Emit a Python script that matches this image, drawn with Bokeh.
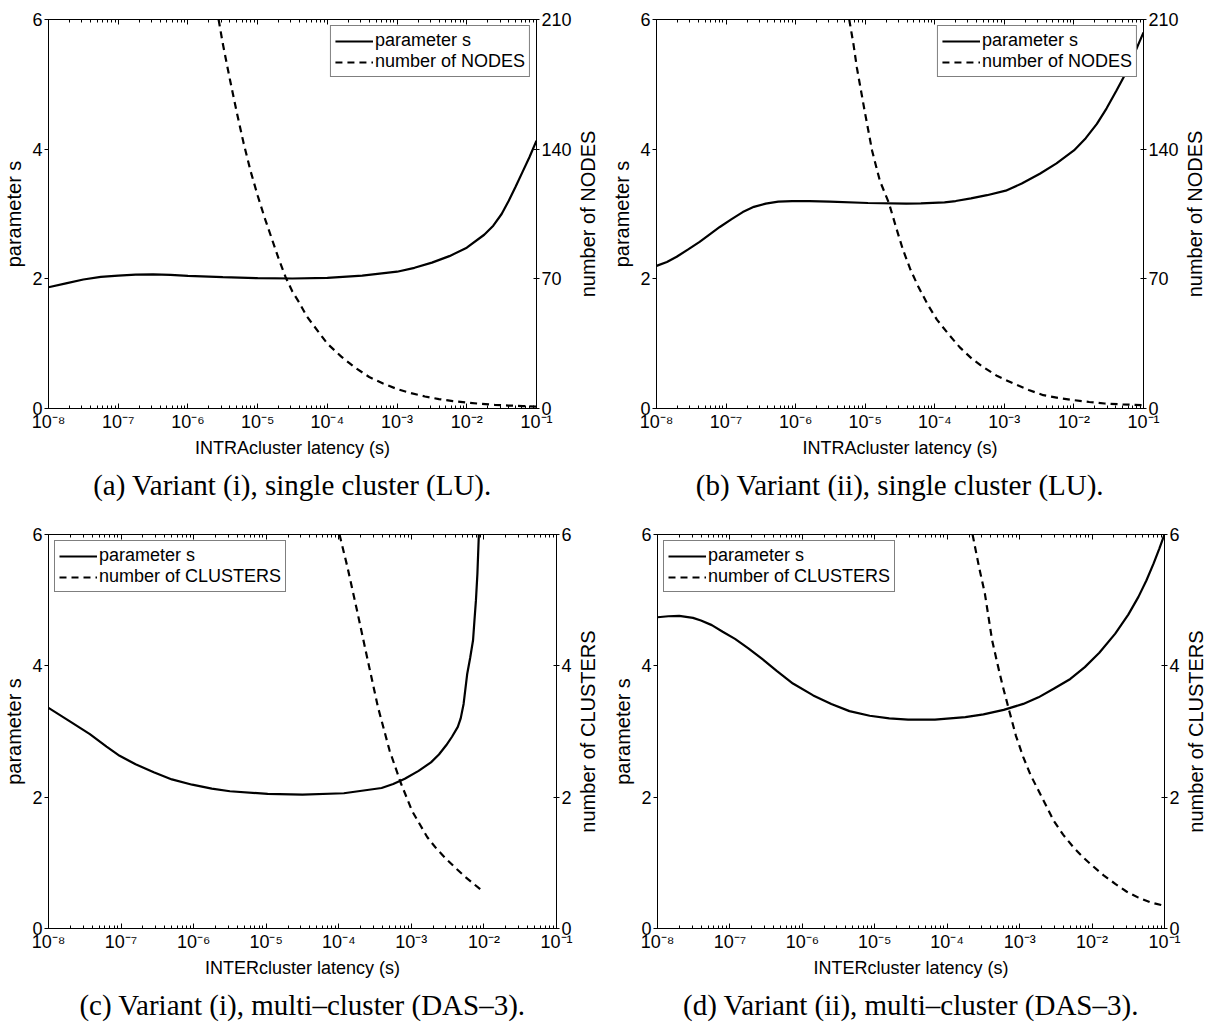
from bokeh.plotting import figure
from bokeh.models import (Range1d, LinearAxis, LogAxis, FixedTicker, CustomJSTickFormatter,
                          Legend, LegendItem, Title)
from bokeh.layouts import column, row
from bokeh.embed import file_html
from bokeh.resources import INLINE

# ---------------- data (x given as log10 of latency in seconds) ----------------
# (a) Variant (i), single cluster (LU)
a_s_lx = [-8.0, -7.75, -7.5, -7.25, -7.0, -6.75, -6.5, -6.25, -6.0, -5.5, -5.0, -4.5, -4.0,
          -3.5, -3.0, -2.75, -2.5, -2.25, -2.0, -1.75, -1.62, -1.5, -1.4, -1.3, -1.2, -1.1, -1.0]
a_s_y = [1.87, 1.93, 1.99, 2.03, 2.05, 2.065, 2.07, 2.06, 2.045, 2.025, 2.01, 2.005, 2.015,
         2.05, 2.11, 2.17, 2.25, 2.35, 2.48, 2.68, 2.82, 3.0, 3.2, 3.42, 3.65, 3.88, 4.13]
a_n_lx = [-5.56, -5.5, -5.4, -5.3, -5.2, -5.1, -5.0, -4.9, -4.8, -4.7, -4.6, -4.5, -4.4, -4.3,
          -4.2, -4.1, -4.0, -3.8, -3.6, -3.4, -3.2, -3.0, -2.8, -2.6, -2.4, -2.2, -2.0, -1.8,
          -1.6, -1.4, -1.2, -1.0]
a_n_y = [210, 197, 178, 160, 143, 128, 115, 103, 92, 81, 71, 63, 57, 50,
         45, 40, 35, 28, 22, 17, 13.5, 10.5, 8.3, 6.5, 5.1, 4.0, 3.2, 2.5,
         2.0, 1.6, 1.3, 1.0]

# (b) Variant (ii), single cluster (LU)
b_s_lx = [-8.0, -7.85, -7.71, -7.55, -7.38, -7.23, -7.09, -6.92, -6.76, -6.6, -6.43, -6.25,
          -6.05, -5.8, -5.51, -4.96, -4.41, -4.2, -3.86, -3.7, -3.48, -3.25, -2.98, -2.75,
          -2.49, -2.25, -2.0, -1.83, -1.67, -1.53, -1.39, -1.28, -1.17, -1.08, -1.0]
b_s_y = [2.2, 2.26, 2.34, 2.45, 2.57, 2.69, 2.8, 2.92, 3.03, 3.11, 3.16, 3.19,
         3.2, 3.2, 3.19, 3.17, 3.16, 3.165, 3.18, 3.2, 3.24, 3.29, 3.36, 3.47,
         3.62, 3.78, 3.98, 4.17, 4.39, 4.63, 4.9, 5.12, 5.37, 5.6, 5.8]
b_n_lx = [-5.23, -5.17, -5.12, -5.01, -4.9, -4.79, -4.66, -4.55, -4.46, -4.35, -4.24, -4.1,
          -3.97, -3.8, -3.64, -3.47, -3.31, -3.1, -2.87, -2.65, -2.44, -2.22, -2.0, -1.78,
          -1.56, -1.3, -1.01]
b_n_y = [210, 197, 184, 161, 139, 123, 111, 97, 86, 75, 66, 56,
         48, 40, 33, 27, 22.5, 17.5, 13.5, 10, 7.2, 5.7, 4.5, 3.5,
         2.7, 2.2, 1.8]

# (c) Variant (i), multi-cluster (DAS-3)
c_s_lx = [-8.0, -7.7, -7.43, -7.2, -7.02, -6.8, -6.55, -6.3, -6.02, -5.75, -5.5, -4.98, -4.5,
          -3.93, -3.41, -3.25, -3.09, -2.9, -2.73, -2.62, -2.52, -2.44, -2.36, -2.32, -2.28,
          -2.23, -2.19, -2.15, -2.13, -2.11, -2.09, -2.07]
c_s_y = [3.36, 3.15, 2.96, 2.77, 2.63, 2.5, 2.38, 2.27, 2.19, 2.13, 2.09, 2.05, 2.04,
         2.06, 2.14, 2.2, 2.28, 2.4, 2.53, 2.65, 2.79, 2.92, 3.07, 3.2, 3.42,
         3.88, 4.12, 4.39, 4.7, 5.0, 5.4, 6.0]
c_n_lx = [-3.99, -3.88, -3.75, -3.61, -3.46, -3.3, -3.14, -2.99, -2.88, -2.78, -2.65, -2.52,
          -2.38, -2.25, -2.13, -2.02]
c_n_y = [6.0, 5.5, 4.85, 4.13, 3.37, 2.71, 2.2, 1.79, 1.58, 1.39, 1.21, 1.06,
         0.91, 0.78, 0.67, 0.57]

# (d) Variant (ii), multi-cluster (DAS-3)
d_s_lx = [-8.0, -7.85, -7.7, -7.51, -7.4, -7.25, -7.1, -6.93, -6.75, -6.56, -6.35, -6.13,
          -5.85, -5.6, -5.35, -5.07, -4.8, -4.54, -4.17, -3.75, -3.5, -3.22, -2.95, -2.74,
          -2.53, -2.3, -2.1, -1.9, -1.68, -1.5, -1.36, -1.25, -1.15, -1.07, -1.0]
d_s_y = [4.74, 4.755, 4.76, 4.73, 4.69, 4.62, 4.52, 4.41, 4.27, 4.11, 3.92, 3.73,
         3.55, 3.42, 3.31, 3.24, 3.2, 3.18, 3.18, 3.22, 3.26, 3.33, 3.42, 3.52,
         3.65, 3.8, 3.98, 4.2, 4.49, 4.78, 5.05, 5.3, 5.56, 5.79, 6.0]
d_n_lx = [-3.65, -3.56, -3.48, -3.38, -3.3, -3.24, -3.14, -3.05, -2.95, -2.85, -2.74, -2.63,
          -2.53, -2.4, -2.26, -2.13, -2.0, -1.84, -1.68, -1.52, -1.36, -1.2, -1.02]
d_n_y = [6.0, 5.5, 5.1, 4.39, 4.0, 3.72, 3.3, 2.93, 2.61, 2.34, 2.1, 1.86,
         1.64, 1.43, 1.24, 1.09, 0.96, 0.81, 0.68, 0.56, 0.47, 0.4, 0.35]

x_major = [1e-8, 1e-7, 1e-6, 1e-5, 1e-4, 1e-3, 1e-2, 1e-1]
x_minor = [k * 10.0 ** e for e in range(-8, -1) for k in range(2, 10)]
left_ticks = [0, 2, 4, 6]

# layout: plot width w, borders (px); lw = width of the strip holding the right-axis title
panels = [
    dict(s_lx=a_s_lx, s_y=a_s_y, n_lx=a_n_lx, n_y=a_n_y, ymax2=210, ticks2=[0, 70, 140, 210],
         ylab2="number of NODES", xlab="INTRAcluster latency (s)",
         cap="(a) Variant (i), single cluster (LU).", leg="top_right",
         w=574, lw=29, h=518, bl=44, br=35, bt=19, bb=110),
    dict(s_lx=b_s_lx, s_y=b_s_y, n_lx=b_n_lx, n_y=b_n_y, ymax2=210, ticks2=[0, 70, 140, 210],
         ylab2="number of NODES", xlab="INTRAcluster latency (s)",
         cap="(b) Variant (ii), single cluster (LU).", leg="top_right",
         w=578, lw=25, h=518, bl=53, br=35, bt=19, bb=110),
    dict(s_lx=c_s_lx, s_y=c_s_y, n_lx=c_n_lx, n_y=c_n_y, ymax2=6, ticks2=[0, 2, 4, 6],
         ylab2="number of CLUSTERS", xlab="INTERcluster latency (s)",
         cap="(c) Variant (i), multi\u2013cluster (DAS\u20133).", leg="top_left",
         w=574, lw=29, h=518, bl=47, br=15, bt=16, bb=108),
    dict(s_lx=d_s_lx, s_y=d_s_y, n_lx=d_n_lx, n_y=d_n_y, ymax2=6, ticks2=[0, 2, 4, 6],
         ylab2="number of CLUSTERS", xlab="INTERcluster latency (s)",
         cap="(d) Variant (ii), multi\u2013cluster (DAS\u20133).", leg="top_left",
         w=579, lw=24, h=518, bl=54, br=15, bt=16, bb=108),
]

SANS = "Liberation Sans"
FS = "18px"
FS_ROT = "20px"

sup_js = """
const sup = {'-':'\u207b','0':'\u2070','1':'\u00b9','2':'\u00b2','3':'\u00b3','4':'\u2074',
             '5':'\u2075','6':'\u2076','7':'\u2077','8':'\u2078','9':'\u2079'};
const e = Math.round(Math.log10(tick));
return '10' + String(e).split('').map(c => sup[c]).join('');
"""


def style_axis(ax, label_size=FS):
    ax.axis_line_color = "black"
    ax.axis_line_width = 1
    ax.major_tick_line_color = "black"
    ax.minor_tick_line_color = "black"
    ax.major_label_text_font = SANS
    ax.major_label_text_font_size = FS
    ax.major_label_text_color = "black"
    ax.axis_label_text_font = SANS
    ax.axis_label_text_font_size = label_size
    ax.axis_label_text_font_style = "normal"
    ax.axis_label_text_color = "black"


def make_panel(d):
    p = figure(width=d["w"], height=d["h"], x_axis_type="log",
               x_range=Range1d(1e-8, 1e-1), y_range=Range1d(0, 6),
               output_backend="svg", toolbar_location=None,
               min_border_left=d["bl"], min_border_right=d["br"],
               min_border_top=d["bt"], min_border_bottom=d["bb"])
    p.grid.visible = False
    p.outline_line_color = "black"
    p.outline_line_width = 1
    p.background_fill_color = "white"
    p.border_fill_color = "white"

    # bottom x axis
    xa = p.xaxis[0]
    style_axis(xa)
    xa.ticker = FixedTicker(ticks=x_major, minor_ticks=x_minor)
    xa.formatter = CustomJSTickFormatter(code=sup_js)
    xa.major_tick_in = 5
    xa.major_tick_out = 0
    xa.minor_tick_in = 3
    xa.minor_tick_out = 0
    xa.major_label_standoff = 3
    xa.axis_label = d["xlab"]
    xa.axis_label_standoff = 3

    # top x axis (ticks only)
    ta = LogAxis(ticker=FixedTicker(ticks=x_major, minor_ticks=x_minor),
                 formatter=CustomJSTickFormatter(code="return '';"))
    style_axis(ta)
    ta.major_tick_in = 5
    ta.major_tick_out = 0
    ta.minor_tick_in = 3
    ta.minor_tick_out = 0
    ta.major_label_standoff = 0
    p.add_layout(ta, "above")

    # left y axis
    ya = p.yaxis[0]
    style_axis(ya, FS_ROT)
    ya.ticker = FixedTicker(ticks=left_ticks)
    ya.minor_tick_line_color = None
    ya.major_tick_in = 0
    ya.major_tick_out = 4
    ya.major_label_standoff = 2
    ya.axis_label = "parameter s"
    ya.axis_label_standoff = 4

    # right y axis (ticks + tick labels)
    p.extra_y_ranges = {"n": Range1d(0, d["ymax2"])}
    ra = LinearAxis(y_range_name="n", ticker=FixedTicker(ticks=d["ticks2"]))
    style_axis(ra, FS_ROT)
    ra.minor_tick_line_color = None
    ra.major_tick_in = 3
    ra.major_tick_out = 3
    ra.major_label_standoff = 2
    p.add_layout(ra, "right")

    xs = [10.0 ** v for v in d["s_lx"]]
    xn = [10.0 ** v for v in d["n_lx"]]
    r1 = p.line(xs, d["s_y"], line_color="black", line_width=2.2)
    r2 = p.line(xn, d["n_y"], line_color="black", line_width=2.2, line_dash="7 5",
                y_range_name="n")

    leg = Legend(items=[LegendItem(label="parameter s", renderers=[r1]),
                        LegendItem(label=d["ylab2"], renderers=[r2])])
    leg.location = d["leg"]
    leg.border_line_color = "black"
    leg.border_line_width = 1
    leg.background_fill_color = "white"
    leg.background_fill_alpha = 1
    leg.label_text_font = SANS
    leg.label_text_font_size = FS
    leg.label_text_color = "black"
    leg.glyph_width = 38
    leg.glyph_height = 20
    leg.label_height = 20
    leg.label_standoff = 2
    leg.spacing = 0
    leg.padding = 4
    leg.margin = 6
    p.add_layout(leg)

    cap = Title(text=d["cap"], align="center", text_font="Liberation Serif",
                text_font_size="29px", text_font_style="normal", text_color="black",
                standoff=12)
    p.add_layout(cap, "below")

    # narrow strip carrying the right-axis title, reading bottom-to-top
    s = figure(width=d["lw"], height=d["h"], x_range=Range1d(0, 1), y_range=Range1d(0, 1),
               output_backend="svg", toolbar_location=None,
               x_axis_location=None, y_axis_location=None,
               min_border_left=0, min_border_right=0,
               min_border_top=d["bt"], min_border_bottom=d["bb"])
    s.grid.visible = False
    s.outline_line_color = None
    s.background_fill_color = "white"
    s.border_fill_color = "white"
    rt = Title(text=d["ylab2"], align="center", text_font=SANS, text_font_size=FS_ROT,
               text_font_style="normal", text_color="black", standoff=0)
    s.add_layout(rt, "left")
    return p, s


built = [make_panel(d) for d in panels]
layout = column(row(built[0][0], built[0][1], built[1][0], built[1][1]),
                row(built[2][0], built[2][1], built[3][0], built[3][1]))

html = file_html(layout, INLINE, "parameter s vs latency")
with open("out.html", "w") as f:
    f.write(html)
